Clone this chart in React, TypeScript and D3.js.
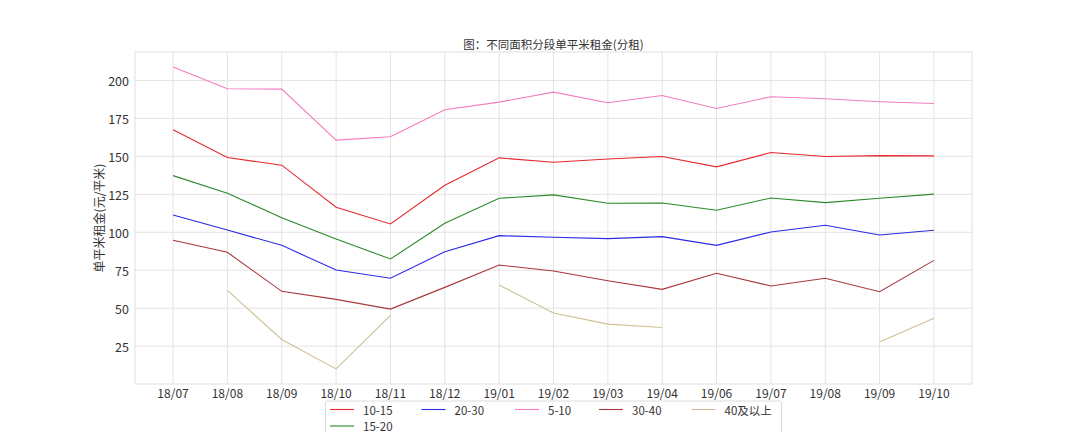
import React, { useEffect, useRef } from 'react';
import * as d3 from 'd3';

const months = ['18/07', '18/08', '18/09', '18/10', '18/11', '18/12', '19/01', '19/02', '19/03', '19/04', '19/06', '19/07', '19/08', '19/09', '19/10'];

const s10_15 = [167.5, 149.2, 144.2, 116.5, 105.5, 131.0, 149.0, 146.1, 148.3, 149.9, 143.1, 152.5, 149.9, 150.5, 150.3];
const s15_20 = [137.3, 125.7, 109.6, 95.6, 82.4, 105.9, 122.4, 124.6, 119.1, 119.3, 114.5, 122.6, 119.5, 122.4, 125.1];
const s20_30 = [111.4, 101.5, 91.4, 75.1, 69.7, 87.2, 97.8, 96.7, 95.8, 97.1, 91.4, 100.2, 104.6, 98.2, 101.3];
const s5_10 = [208.8, 194.5, 194.3, 160.7, 162.9, 180.7, 185.7, 192.3, 185.3, 190.1, 181.5, 189.3, 187.9, 186.0, 184.8];
const s30_40 = [94.7, 86.8, 61.1, 55.8, 49.4, 63.7, 78.4, 74.5, 68.1, 62.4, 73.0, 64.6, 69.7, 60.8, 81.5];
const s40up: (number | null)[] = [null, 61.7, 29.4, 10.0, 45.3, null, 65.2, 46.8, 39.5, 37.3, null, null, null, 27.8, 43.3];

const seriesNames = ['10-15', '15-20', '20-30', '5-10', '30-40', '40及以上'];
const seriesValues: (number | null)[][] = [s10_15, s15_20, s20_30, s5_10, s30_40, s40up];
const seriesColors = ['#e8282c', '#2a8a2a', '#2a2ae8', '#f27cbf', '#a8383c', '#cdc094'];

const yTicks = [25, 50, 75, 100, 125, 150, 175, 200];

const title = '图：不同面积分段单平米租金(分租)';
const yLabel = '单平米租金(元/平米)';

const W = 1080;
const H = 432;
const FONT = '"Noto Sans CJK SC", "Noto Sans", sans-serif';

const App: React.FC = () => {
  const svgRef = useRef<SVGSVGElement>(null);

  useEffect(() => {
    if (!svgRef.current) return;
    document.body.style.margin = '0';
    const svg = d3.select(svgRef.current);
    svg.selectAll('*').remove();

    const left = 135, right = 972, top = 52, bottom = 384;
    const n = months.length;

    const all = seriesValues.flat().filter((v): v is number => v != null);
    const lo = d3.min(all)!, hi = d3.max(all)!;
    const pad = (hi - lo) * 0.05;

    const x = d3.scaleLinear().domain([-0.05 * (n - 1), (n - 1) * 1.05]).range([left, right]);
    const y = d3.scaleLinear().domain([lo - pad, hi + pad]).range([bottom, top]);

    svg.append('rect').attr('width', W).attr('height', H).attr('fill', '#fff');

    // grid
    const grid = svg.append('g');
    yTicks.forEach(t => {
      grid.append('line')
        .attr('x1', left).attr('x2', right)
        .attr('y1', y(t)).attr('y2', y(t))
        .attr('stroke', '#e3e3e3').attr('stroke-width', 1);
    });
    months.forEach((_, i) => {
      grid.append('line')
        .attr('x1', x(i)).attr('x2', x(i))
        .attr('y1', top).attr('y2', bottom)
        .attr('stroke', '#e3e3e3').attr('stroke-width', 1);
    });
    svg.append('rect')
      .attr('x', left).attr('y', top)
      .attr('width', right - left).attr('height', bottom - top)
      .attr('fill', 'none').attr('stroke', '#e0e0e0');

    // tick labels
    yTicks.forEach(t => {
      svg.append('text')
        .attr('x', left - 6).attr('y', y(t))
        .attr('text-anchor', 'end').attr('dominant-baseline', 'central')
        .style('font-family', FONT).style('font-size', '12.5px').style('fill', '#333')
        .text(t);
    });
    months.forEach((m, i) => {
      svg.append('text')
        .attr('x', x(i)).attr('y', bottom + 8.5)
        .attr('text-anchor', 'middle').attr('dominant-baseline', 'central')
        .style('font-family', FONT).style('font-size', '12px').style('fill', '#333')
        .text(m);
    });

    // lines
    const line = d3.line<number | null>()
      .defined(d => d != null)
      .x((_, i) => x(i))
      .y(d => y(d as number));

    seriesValues.forEach((vals, k) => {
      svg.append('path')
        .attr('d', line(vals) || '')
        .attr('fill', 'none')
        .attr('stroke', seriesColors[k])
        .attr('stroke-width', 1.1);
    });

    // title
    svg.append('text')
      .attr('x', (left + right) / 2).attr('y', 44)
      .attr('text-anchor', 'middle').attr('dominant-baseline', 'central')
      .style('font-family', FONT).style('font-size', '11.5px').style('fill', '#333')
      .text(title);

    // y label
    svg.append('text')
      .attr('transform', `translate(98, ${(top + bottom) / 2}) rotate(-90)`)
      .attr('text-anchor', 'middle').attr('dominant-baseline', 'central')
      .style('font-family', FONT).style('font-size', '12px').style('fill', '#333')
      .text(yLabel);

    // legend (column-first, 5 columns)
    const lg = svg.append('g').attr('transform', 'translate(325.5, 401)');
    lg.append('rect')
      .attr('width', 456).attr('height', 48).attr('rx', 2)
      .attr('fill', '#fff').attr('stroke', '#dcdcdc');
    const colX = [4.5, 96, 189.5, 273.5, 366];
    const rowY = [8.5, 25];
    const slots = [[0, 0], [0, 1], [1, 0], [2, 0], [3, 0], [4, 0]];
    seriesNames.forEach((name, k) => {
      const [c, r] = slots[k];
      const item = lg.append('g').attr('transform', `translate(${colX[c]}, ${rowY[r]})`);
      item.append('line')
        .attr('x1', 0).attr('x2', 24).attr('y1', 0).attr('y2', 0)
        .attr('stroke', seriesColors[k]).attr('stroke-width', 1.1);
      item.append('text')
        .attr('x', 33).attr('y', 0)
        .attr('dominant-baseline', 'central')
        .style('font-family', FONT).style('font-size', '11.5px').style('fill', '#333')
        .text(name);
    });
  }, []);

  return <svg ref={svgRef} width={W} height={H} style={{ display: 'block' }} />;
};

export default App;
